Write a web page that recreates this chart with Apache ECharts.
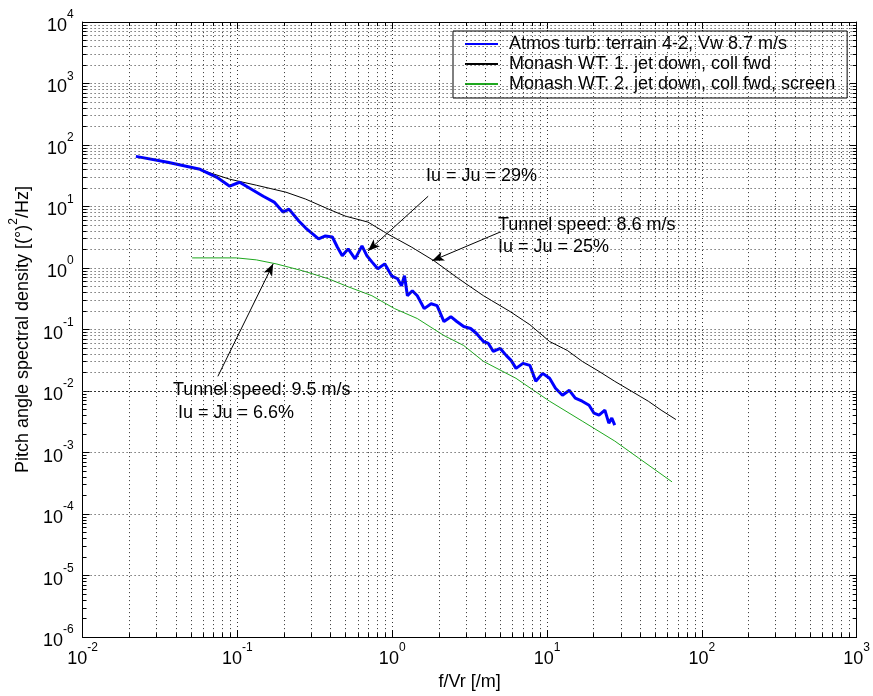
<!DOCTYPE html>
<html><head><meta charset="utf-8">
<script src="https://cdn.jsdelivr.net/npm/echarts@6.0.0/dist/echarts.min.js"></script>
<style>html,body{margin:0;padding:0;background:#fff}#c{width:873px;height:696px}</style>
</head><body><div id="c"></div>
<script>
const seriesNames = ['Atmos turb: terrain 4-2, Vw 8.7 m/s', 'Monash WT: 1. jet down, coll fwd', 'Monash WT: 2. jet down, coll fwd, screen'];
const xTickExp = ['-2','-1','0','1','2','3'];
const yTickExp = ['-6','-5','-4','-3','-2','-1','0','1','2','3','4'];

const blueF = [0.0221,0.0354,0.0574,0.0737,0.0892,0.1033,0.1232,0.1469,0.1727,0.197,0.2152,0.2493,0.2762,0.3062,0.3344,0.3705,0.4107,0.4419,0.4757,0.5194,0.5757,0.6379,0.6866,0.739,0.8071,0.8945,0.9912,1.083,1.148,1.2,1.254,1.349,1.452,1.609,1.784,1.948,2.159,2.392,2.613,2.895,3.209,3.504,3.884,4.181,4.499,4.986,5.445,5.861,6.306,6.989,7.745,8.46,9.374,10.39,11.34,12.58,13.94,15.22,16.87,18.69,20.12,21.66,23.64,25.07,26.2,27.38];
const bluePSD = [65.4,52.3,40.3,29.9,21.4,24.8,19.1,14.7,11.8,8.12,9.08,5.81,4.47,3.58,2.97,3.32,3.20,2.20,1.58,2.05,1.41,2.29,1.58,1.26,0.971,1.17,0.748,0.669,0.515,0.748,0.355,0.428,0.355,0.219,0.263,0.245,0.135,0.162,0.135,0.112,0.104,0.0862,0.0639,0.0594,0.0441,0.0493,0.038,0.0315,0.0234,0.0282,0.0262,0.0144,0.0194,0.0161,0.0111,0.00855,0.0103,0.00765,0.00684,0.00589,0.00437,0.00406,0.00489,0.00301,0.00363,0.0028];

const blackF = [0.05656,0.08919,0.1326,0.206,0.2762,0.3873,0.497,0.6968,0.9348,1.329,1.864,2.69,3.884,5.775,7.745,10.39,13.53,16.87,21.66,27.38,35.14,45.11,54.61,68.06];
const blackPSD = [40.3,27.8,22.2,17.1,13.2,9.08,7.0,5.59,3.58,2.2,1.31,0.669,0.355,0.196,0.12,0.0639,0.0457,0.0304,0.0209,0.0144,0.00993,0.00684,0.00489,0.00344];

const greenF = [0.05103,0.09883,0.1326,0.1778,0.2644,0.3873,0.5194,0.739,1.036,1.452,2.159,2.895,3.884,6.306,10.39,16.87,27.38,38.96,64.2];
const greenPSD = [1.462,1.462,1.357,1.17,0.901,0.669,0.496,0.355,0.219,0.151,0.0799,0.0551,0.0304,0.0161,0.00684,0.00325,0.00154,0.000818,0.000334];

const annotTail = [[1.707,14.7],[4.986,3.85],[0.0748,0.01736]];
const annotHead = [[0.6968,1.90],[1.81,1.31],[0.1702,1.17]];

const FONT = '"Liberation Sans", Arial, sans-serif';
const X_MIN = 0.01, X_MAX = 1000, Y_MIN = 1e-6, Y_MAX = 1e4;

function pairs(a, b){ return a.map((v, i) => [v, b[i]]); }
function expLabel(exps){
  return function(v){
    const e = String(Math.round(Math.log10(v)));
    return exps.indexOf(e) >= 0 ? '{b|10}{s|' + e + '}' : '';
  };
}
const labelRich = {
  b: {fontSize: 18, lineHeight: 26, verticalAlign: 'bottom', fontFamily: FONT, color: '#000'},
  s: {fontSize: 12, lineHeight: 14, verticalAlign: 'top', fontFamily: FONT, color: '#000'}
};

// minor grid / tick positions (2..9 x 10^n)
const xMinor = [], yMinor = [];
for (let d = -2; d <= 2; d++) for (let k = 2; k <= 9; k++) xMinor.push(k * Math.pow(10, d));
for (let d = -6; d <= 3; d++) for (let k = 2; k <= 9; k++) yMinor.push(k * Math.pow(10, d));

const minorGrid = [];
xMinor.forEach(v => minorGrid.push({xAxis: v}));
yMinor.forEach(v => minorGrid.push({yAxis: v}));

const fx = Math.pow(10, 4 / 156.8), fy = Math.pow(10, 4 / 61.8);
const minorTicks = [];
xMinor.forEach(v => {
  minorTicks.push([{coord: [v, Y_MIN]}, {coord: [v, Y_MIN * fy]}]);
  minorTicks.push([{coord: [v, Y_MAX]}, {coord: [v, Y_MAX / fy]}]);
});
yMinor.forEach(v => {
  minorTicks.push([{coord: [X_MIN, v]}, {coord: [X_MIN * fx, v]}]);
  minorTicks.push([{coord: [X_MAX, v]}, {coord: [X_MAX / fx, v]}]);
});

const arrows = annotTail.map((t, i) => [{coord: t}, {coord: annotHead[i]}]);

function logAxis(extra){
  return Object.assign({
    type: 'log', logBase: 10, interval: 1,
    axisLine: {show: true, onZero: false, lineStyle: {color: '#000', width: 1}},
    axisTick: {show: true, inside: true, length: 7, lineStyle: {color: '#000'}},
    minorTick: {show: false},
    splitLine: {show: false},
    axisLabel: {show: false}
  }, extra);
}

const gridLine = {color: '#333', width: 1, type: [1, 3]};

const option = {
  animation: false,
  backgroundColor: '#fff',
  grid: {left: 74, right: 15, top: 22, bottom: 56, containLabel: false},
  xAxis: [
    logAxis({min: X_MIN, max: X_MAX, position: 'bottom',
      splitLine: {show: true, lineStyle: gridLine},
      axisLabel: {show: true, margin: 5, formatter: expLabel(xTickExp), rich: labelRich},
      name: 'f/Vr [/m]', nameLocation: 'middle', nameGap: 34,
      nameTextStyle: {fontSize: 18, fontFamily: FONT, color: '#000'}}),
    logAxis({min: X_MIN, max: X_MAX, position: 'top'})
  ],
  yAxis: [
    logAxis({min: Y_MIN, max: Y_MAX, position: 'left',
      splitLine: {show: true, lineStyle: gridLine},
      axisLabel: {show: true, margin: 9, formatter: expLabel(yTickExp), rich: labelRich},
      name: '{n|Pitch angle spectral density [(°)}{s|2}{n|/Hz]}',
      nameLocation: 'middle', nameGap: 40,
      nameTextStyle: {fontSize: 18, fontFamily: FONT, color: '#000',
        rich: {
          n: {fontSize: 18, lineHeight: 24, verticalAlign: 'bottom', fontFamily: FONT, color: '#000'},
          s: {fontSize: 12, lineHeight: 14, verticalAlign: 'top', fontFamily: FONT, color: '#000'}
        }}}),
    logAxis({min: Y_MIN, max: Y_MAX, position: 'right'})
  ],
  legend: {
    orient: 'vertical', left: 453, top: 31,
    padding: [4, 12, 5, 11], itemGap: 2, itemWidth: 33, itemHeight: 18,
    backgroundColor: '#fff', borderColor: '#000', borderWidth: 1, borderRadius: 0,
    selectedMode: false,
    itemStyle: {opacity: 0},
    data: seriesNames,
    textStyle: {fontSize: 18, fontFamily: FONT, color: '#000', padding: [0, 0, 0, 6]}
  },
  graphic: [
    {type: 'text', x: 426, y: 176, silent: true, style: {text: 'Iu = Ju = 29%', fontSize: 18, fontFamily: FONT, fill: '#000', verticalAlign: 'middle'}},
    {type: 'text', x: 498, y: 225, silent: true, style: {text: 'Tunnel speed: 8.6 m/s', fontSize: 18, fontFamily: FONT, fill: '#000', verticalAlign: 'middle'}},
    {type: 'text', x: 498, y: 247, silent: true, style: {text: 'Iu = Ju = 25%', fontSize: 18, fontFamily: FONT, fill: '#000', verticalAlign: 'middle'}},
    {type: 'text', x: 173, y: 390, silent: true, style: {text: 'Tunnel speed: 9.5 m/s', fontSize: 18, fontFamily: FONT, fill: '#000', verticalAlign: 'middle'}},
    {type: 'text', x: 173, y: 413, silent: true, style: {text: ' Iu = Ju = 6.6%', fontSize: 18, fontFamily: FONT, fill: '#000', verticalAlign: 'middle'}}
  ],
  series: [
    {name: '_minorGrid', type: 'line', data: [], z: 1, silent: true,
      markLine: {silent: true, animation: false, symbol: 'none', label: {show: false},
        lineStyle: gridLine, emphasis: {disabled: true}, data: minorGrid}},
    {name: '_minorTicks', type: 'line', data: [], z: 1, silent: true,
      markLine: {silent: true, animation: false, symbol: 'none', label: {show: false},
        lineStyle: {color: '#000', width: 1, type: 'solid'}, emphasis: {disabled: true}, data: minorTicks}},
    {name: seriesNames[2], type: 'line', data: pairs(greenF, greenPSD), symbol: 'none', z: 3,
      lineStyle: {color: '#1fa81f', width: 1}, itemStyle: {color: '#1fa81f'}},
    {name: seriesNames[1], type: 'line', data: pairs(blackF, blackPSD), symbol: 'none', z: 3,
      lineStyle: {color: '#000', width: 1}, itemStyle: {color: '#000'}},
    {name: seriesNames[0], type: 'line', data: pairs(blueF, bluePSD), symbol: 'none', z: 4,
      lineStyle: {color: '#0000ff', width: 3}, itemStyle: {color: '#0000ff'}},
    {name: '_arrows', type: 'line', data: [], z: 5, silent: true,
      markLine: {silent: true, animation: false, symbol: ['none', 'arrow'], symbolSize: [7, 12],
        label: {show: false}, lineStyle: {color: '#000', width: 1, type: 'solid'},
        itemStyle: {color: '#000'}, emphasis: {disabled: true}, data: arrows}}
  ]
};
const chart = echarts.init(document.getElementById('c'), null, {renderer: 'canvas'});
chart.setOption(option);
</script>
</body></html>
